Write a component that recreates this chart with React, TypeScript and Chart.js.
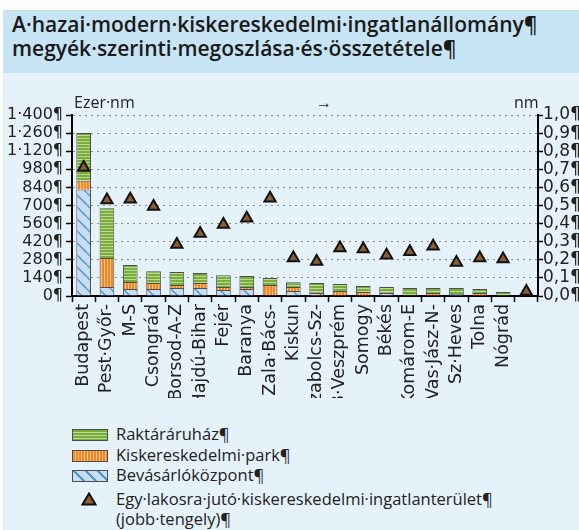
import React, { useEffect, useRef } from "react";
import { Chart, registerables } from "chart.js";

Chart.register(...registerables);

const categories = [
  "Budapest", "Pest·Győr-", "M-S", "Csongrád", "Borsod-A-Z", "Hajdú-Bihar", "Fejér",
  "Baranya", "Zala·Bács-", "Kiskun", "Szabolcs-Sz-", "B·Veszprém", "Somogy", "Békés",
  "Komárom-E", "Vas·Jász-N-", "Sz·Heves", "Tolna", "Nógrád", "",
];
const shoppingCentre = [823, 70, 54, 54, 62, 62, 46, 54, 8, 38, 23, 0, 8, 23, 4, 0, 16, 0, 0, 0];
const retailPark = [69, 223, 54, 46, 23, 38, 23, 15, 77, 31, 8, 38, 23, 8, 4, 23, 0, 23, 0, 0];
const warehouse = [369, 385, 131, 92, 100, 77, 92, 85, 54, 38, 69, 54, 46, 38, 54, 38, 46, 31, 31, 0];
const perCapita = [0.71, 0.53, 0.535, 0.495, 0.285, 0.345, 0.395, 0.43, 0.54, 0.21, 0.19, 0.265, 0.26, 0.225, 0.245, 0.275, 0.185, 0.21, 0.205, 0.025];

const leftMax = 1400;
const leftStep = 140;
const rightMax = 1;
const rightStep = 0.1;

const seriesNames = [
  "Raktáráruház¶",
  "Kiskereskedelmi·park¶",
  "Bevásárlóközpont¶",
  "Egy·lakosra·jutó·kiskereskedelmi·ingatlanterület¶",
  "(jobb·tengely)¶",
];
const leftUnit = "Ezer·nm";
const rightUnit = "nm";
const titleLines = [
  "A·hazai·modern·kiskereskedelmi·ingatlanállomány¶",
  "megyék·szerinti·megoszlása·és·összetétele¶",
];

function pattern(kind: string): CanvasPattern | string {
  const c = document.createElement("canvas");
  const g = c.getContext("2d");
  if (!g) return "#888";
  if (kind === "green") {
    c.width = 4; c.height = 3;
    g.fillStyle = "#78ad3e"; g.fillRect(0, 0, 4, 3);
    g.fillStyle = "#b9dc8f"; g.fillRect(0, 2, 4, 1);
  } else if (kind === "orange") {
    c.width = 3; c.height = 4;
    g.fillStyle = "#f5861f"; g.fillRect(0, 0, 3, 4);
    g.fillStyle = "#fcc48f"; g.fillRect(2, 0, 1, 4);
  } else {
    c.width = 12; c.height = 12;
    g.fillStyle = "#c8ddf1"; g.fillRect(0, 0, 12, 12);
    g.strokeStyle = "#4f94cd"; g.lineWidth = 1.4;
    for (const k of [-12, 0, 12]) {
      g.beginPath(); g.moveTo(k, 0); g.lineTo(k + 12, 12); g.stroke();
    }
  }
  const p = g.createPattern(c, "repeat");
  return p || "#888";
}

const tickFontLeft = { family: "DejaVu Sans", size: 16 };
const tickFontRight = { family: "DejaVu Sans", size: 17 };
const catFont = { family: "DejaVu Sans", size: 17.5 };

function fmtLeft(v: number) {
  const s = String(Math.round(v));
  const withSep = s.length > 3 ? s.slice(0, s.length - 3) + "·" + s.slice(s.length - 3) : s;
  return withSep + "¶";
}
function fmtRight(v: number) {
  return v.toFixed(1).replace(".", ",") + "¶";
}

function Swatch({ bg }: { bg: string }) {
  return (
    <div style={{ width: 34, height: 10, border: "1px solid #4d4d4d", background: bg }} />
  );
}

export default function App() {
  const ref = useRef<HTMLCanvasElement | null>(null);

  useEffect(() => {
    const canvas = ref.current;
    if (!canvas) return;
    const chart = new Chart(canvas, {
      data: {
        labels: categories,
        datasets: [
          {
            type: "line",
            label: seriesNames[3],
            data: perCapita,
            yAxisID: "y1",
            showLine: false,
            pointStyle: "triangle",
            pointRadius: 6.5,
            pointBackgroundColor: "#8b5e36",
            pointBorderColor: "#111",
            pointBorderWidth: 2,
            order: 0,
          } as any,
          {
            type: "bar",
            label: seriesNames[2],
            data: shoppingCentre,
            yAxisID: "y",
            backgroundColor: pattern("blue"),
            borderColor: "#4d4d4d",
            borderWidth: 1,
            order: 1,
          } as any,
          {
            type: "bar",
            label: seriesNames[1],
            data: retailPark,
            yAxisID: "y",
            backgroundColor: pattern("orange"),
            borderColor: "#4d4d4d",
            borderWidth: 1,
            order: 1,
          } as any,
          {
            type: "bar",
            label: seriesNames[0],
            data: warehouse,
            yAxisID: "y",
            backgroundColor: pattern("green"),
            borderColor: "#4d4d4d",
            borderWidth: 1,
            order: 1,
          } as any,
        ],
      },
      options: {
        animation: false,
        responsive: false,
        maintainAspectRatio: false,
        layout: { padding: { top: 42, left: 0, right: 0, bottom: 0 } },
        datasets: { bar: { barPercentage: 0.63, categoryPercentage: 1 } } as any,
        plugins: { legend: { display: false }, tooltip: { enabled: false } },
        scales: {
          x: {
            stacked: true,
            offset: true,
            grid: {
              offset: true,
              drawOnChartArea: false,
              drawTicks: true,
              tickLength: 6,
              tickColor: "#000",
              tickWidth: 1.5,
            },
            border: { color: "#000", width: 2 },
            ticks: {
              autoSkip: false,
              minRotation: 90,
              maxRotation: 90,
              padding: 2,
              color: "#222",
              font: catFont,
            },
            afterFit: (s: any) => { s.height = 102; },
          } as any,
          y: {
            stacked: true,
            position: "left",
            min: 0,
            max: leftMax,
            ticks: {
              stepSize: leftStep,
              autoSkip: false,
              callback: (v: any) => fmtLeft(Number(v)),
              color: "#222",
              font: tickFontLeft,
              padding: 3,
            },
            grid: {
              color: "#8e8e8e",
              lineWidth: 1,
              tickColor: "#000",
              tickLength: 6,
              tickWidth: 1.5,
              tickBorderDash: [],
            },
            border: { color: "#000", width: 2, dash: [2, 4] },
            afterFit: (s: any) => { s.width = 69; },
          } as any,
          y1: {
            position: "right",
            min: 0,
            max: rightMax,
            ticks: {
              stepSize: rightStep,
              autoSkip: false,
              callback: (v: any) => fmtRight(Number(v)),
              color: "#222",
              font: tickFontRight,
              padding: 0,
            },
            grid: {
              drawOnChartArea: false,
              tickColor: "#000",
              tickLength: 5,
              tickWidth: 1.5,
            },
            border: { color: "#000", width: 2 },
            afterFit: (s: any) => { s.width = 41; },
          } as any,
        },
      },
    });
    return () => chart.destroy();
  }, []);

  const textStyle: React.CSSProperties = {
    position: "absolute",
    fontFamily: "'Open Sans', sans-serif",
    color: "#222",
    whiteSpace: "nowrap",
  };

  const legendRows = [
    { y: 435, bg: "repeating-linear-gradient(to bottom, #78ad3e 0px, #78ad3e 2px, #b9dc8f 2px, #b9dc8f 3px)", text: seriesNames[0] },
    { y: 456, bg: "repeating-linear-gradient(to right, #f5861f 0px, #f5861f 2px, #fcc48f 2px, #fcc48f 3px)", text: seriesNames[1] },
    { y: 476, bg: "repeating-linear-gradient(45deg, #c8ddf1 0px, #c8ddf1 7px, #4f94cd 7px, #4f94cd 8.5px)", text: seriesNames[2] },
  ];

  return (
    <div style={{ position: "absolute", left: 0, top: 0, width: 579, height: 530, background: "#fff", overflow: "hidden" }}>
      <div style={{ position: "absolute", left: 3, top: 10, width: 576, height: 63, background: "#c6e4f3" }} />
      <div style={{ position: "absolute", left: 3, top: 73, width: 576, height: 457, background: "#e5f2f9" }} />
      <div style={{ ...textStyle, left: 12, top: 12, fontSize: 21, fontWeight: 600, lineHeight: "24px", color: "#1a1a1a" }}>
        <div>{titleLines[0]}</div>
        <div>{titleLines[1]}</div>
      </div>
      <canvas ref={ref} width={576} height={325} style={{ position: "absolute", left: 3, top: 73, width: 576, height: 325 }} />
      <div style={{ ...textStyle, left: 74, top: 91, fontSize: 16 }}>{leftUnit}</div>
      <div style={{ ...textStyle, left: 316, top: 91, fontSize: 16 }}>→</div>
      <div style={{ ...textStyle, left: 514, top: 91, fontSize: 16 }}>{rightUnit}</div>
      {legendRows.map((r, i) => (
        <React.Fragment key={i}>
          <div style={{ position: "absolute", left: 72, top: r.y - 6 }}>
            <Swatch bg={r.bg} />
          </div>
          <div style={{ ...textStyle, left: 116, top: r.y - 12, fontSize: 16.5, lineHeight: "22px" }}>{r.text}</div>
        </React.Fragment>
      ))}
      <svg style={{ position: "absolute", left: 81, top: 492 }} width={16} height={14}>
        <polygon points="8,1.5 14.5,12.5 1.5,12.5" fill="#8b5e36" stroke="#111" strokeWidth={2} strokeLinejoin="miter" />
      </svg>
      <div style={{ ...textStyle, left: 116, top: 488, fontSize: 16.5, lineHeight: "22px" }}>{seriesNames[3]}</div>
      <div style={{ ...textStyle, left: 116, top: 508, fontSize: 16.5, lineHeight: "22px" }}>{seriesNames[4]}</div>
    </div>
  );
}
